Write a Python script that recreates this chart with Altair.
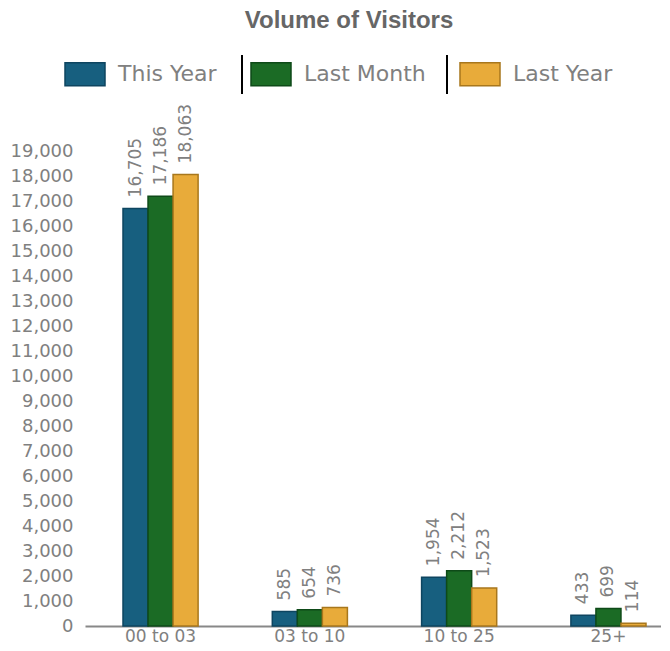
import altair as alt
import pandas as pd

categories = ["00 to 03", "03 to 10", "10 to 25", "25+"]
series_names = ["This Year", "Last Month", "Last Year"]
this_year = [16705, 585, 1954, 433]
last_month = [17186, 654, 2212, 699]
last_year = [18063, 736, 1523, 114]
fill_colors = ["#175f7f", "#1b6b25", "#e8ab3a"]
stroke_colors = ["#0e4560", "#0e4a18", "#a8771c"]
y_ticks = list(range(0, 20000, 1000))

rows = []
for name, vals in zip(series_names, [this_year, last_month, last_year]):
    for c, v in zip(categories, vals):
        rows.append({"category": c, "series": name, "value": v})
df = pd.DataFrame(rows)

label_color = "#808080"
font = "DejaVu Sans"

base = alt.Chart(df).encode(
    x=alt.X(
        "category:N",
        sort=categories,
        scale=alt.Scale(paddingInner=0.497, paddingOuter=0.1775, align=0.717),
        axis=alt.Axis(
            title=None, labelAngle=0, ticks=False, domainColor="#888888",
            domainWidth=2, labelColor=label_color, labelFontSize=17,
            labelFont=font, labelPadding=2,
        ),
    ),
    xOffset=alt.XOffset(
        "series:N", sort=series_names,
        scale=alt.Scale(paddingInner=0, paddingOuter=0),
    ),
    y=alt.Y(
        "value:Q",
        scale=alt.Scale(domain=[0, 19000], nice=False),
        axis=alt.Axis(
            title=None, values=y_ticks, format=",d", grid=False, ticks=False,
            domain=False, labelColor=label_color, labelFontSize=18,
            labelFont=font, labelPadding=12,
        ),
    ),
)

bars = base.mark_bar(strokeWidth=1.5).encode(
    color=alt.Color(
        "series:N", sort=series_names, title=None,
        scale=alt.Scale(domain=series_names, range=fill_colors),
    ),
    stroke=alt.Stroke(
        "series:N", sort=series_names, title=None,
        scale=alt.Scale(domain=series_names, range=stroke_colors),
    ),
)

labels = base.mark_text(
    angle=270, align="left", baseline="middle", dx=11,
    fontSize=17, color=label_color, font=font,
).encode(text=alt.Text("value:Q", format=","))

sep1 = alt.Chart(df).mark_rule(color="black", strokeWidth=2).encode(
    x=alt.value(157), y=alt.value(-96), y2=alt.value(-57)
)
sep2 = alt.Chart(df).mark_rule(color="black", strokeWidth=2).encode(
    x=alt.value(362), y=alt.value(-96), y2=alt.value(-57)
)

chart = alt.layer(bars, labels, sep1, sep2).properties(
    width=576,
    height=475,
    padding={"left": 2, "right": 0, "top": 1, "bottom": 0},
    title=alt.TitleParams(
        "Volume of Visitors", font="Liberation Sans", fontSize=24,
        fontWeight="bold", color="#666666", anchor="middle", offset=20,
        dx=-24,
    ),
).configure_view(stroke=None).configure_legend(
    orient="none", legendX=-21, legendY=-98, direction="horizontal",
    symbolType="M-1,-0.575H1V0.575H-1Z", symbolSize=1600, symbolStrokeWidth=1.5,
    labelFontSize=22, labelColor=label_color, labelFont=font,
    labelOffset=12, columnPadding=31, padding=0,
)

chart.save("out.html", embed_options={"renderer": "svg", "actions": False})
